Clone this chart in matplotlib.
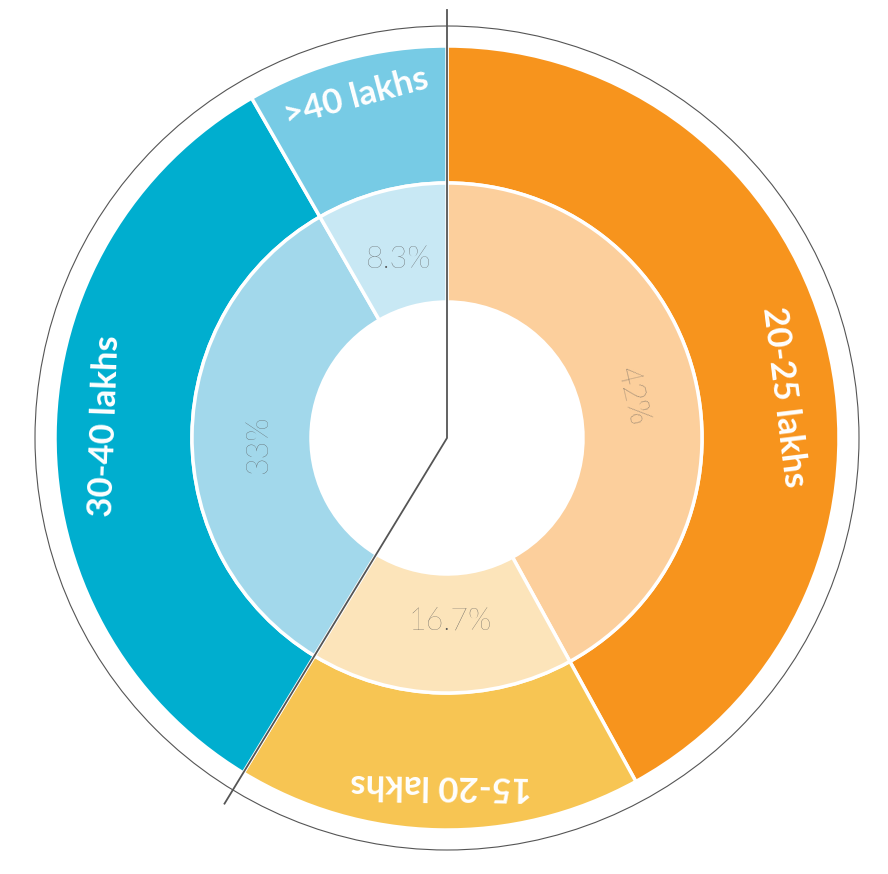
import matplotlib
matplotlib.use("Agg")
import matplotlib.pyplot as plt
from matplotlib.patches import Wedge, Circle
import numpy as np

categories = ["20-25 lakhs", "15-20 lakhs", "30-40 lakhs", ">40 lakhs"]
values = [42.0, 16.7, 33.0, 8.3]
pct_labels = ["42%", "16.7%", "33%", "8.3%"]
outer_colors = ["#F7941D", "#F7C553", "#00AECF", "#77CBE5"]
inner_colors = ["#FCCF9C", "#FCE4BA", "#A2D8EB", "#C8E8F4"]

fig = plt.figure(figsize=(8.88, 8.74), dpi=100)
ax = fig.add_axes([0, 0, 1, 1])
ax.set_xlim(0, 888); ax.set_ylim(0, 874); ax.set_aspect("equal"); ax.axis("off")
cx, cy = 447, 436
R_out, R_mid, R_in = 392, 255, 136

ax.add_patch(Circle((cx, cy), 412, fill=False, ec="#555555", lw=0.8))
total = sum(values)
start = 90.0
bounds = []
for v, oc, ic in zip(values, outer_colors, inner_colors):
    span = v / total * 360
    end = start - span
    ax.add_patch(Wedge((cx, cy), R_out, end, start, width=R_out - R_mid, fc=oc, ec="white", lw=2.5))
    ax.add_patch(Wedge((cx, cy), R_mid, end, start, width=R_mid - R_in, fc=ic, ec="white", lw=2.5))
    bounds.append(end)
    start = end

# chevron line along the 30-40 segment boundaries
a1 = np.deg2rad(bounds[3] + 360)  # boundary 30-40 / >40
a2 = np.deg2rad(bounds[1])        # boundary 15-20 / 30-40
L = 428
ax.plot([cx + L*np.cos(a1), cx, cx + L*np.cos(a2)],
        [cy + L*np.sin(a1), cy, cy + L*np.sin(a2)], color="#555555", lw=1.3)

font = "Lato"
# outer labels: (angle deg, radius, rotation)
outer_pos = [(7, 340, -83), (-91, 347, 179), (178, 342, 88), (105, 353, 15)]
for lab, (ang, r, rot) in zip(categories, outer_pos):
    a = np.deg2rad(ang)
    ax.text(cx + r*np.cos(a), cy + r*np.sin(a), lab, rotation=rot, ha="center", va="center",
            color="white", fontsize=25, fontweight="bold", family=font, rotation_mode="anchor")
inner_pos = [(13, 190, -77), (-89, 183, 0), (182, 189, 90), (105, 185, 0)]
for lab, (ang, r, rot) in zip(pct_labels, inner_pos):
    a = np.deg2rad(ang)
    ax.text(cx + r*np.cos(a), cy + r*np.sin(a), lab, rotation=rot, ha="center", va="center",
            color="#555555", fontsize=22, fontweight="light", family=font, rotation_mode="anchor")

fig.savefig("out.png", dpi=100, facecolor="white")
